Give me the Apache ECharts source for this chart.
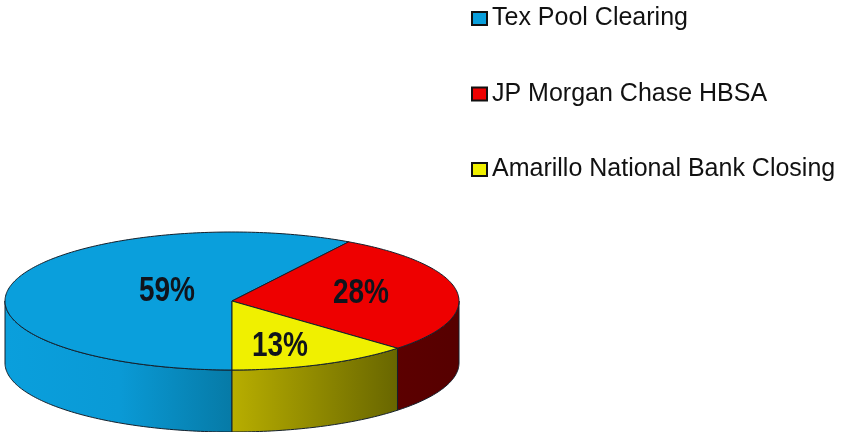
<!DOCTYPE html>
<html lang="en">
<head>
    <meta charset="UTF-8">
    <title>Bank balances</title>
    <script src="https://cdn.jsdelivr.net/npm/echarts@6/dist/echarts.min.js"></script>
    <style>
        html, body { margin: 0; padding: 0; background: #fff; }
    </style>
</head>
<body>
<div id="main" style="width: 841px;height:432px;"></div>

<script type="text/javascript">
    var names = ['Tex Pool Clearing', 'JP Morgan Chase HBSA', 'Amarillo National Bank Closing'];
    var shares = [58.6, 28.4, 13];
    var topColors = ['#0a9fdc', '#ee0000', '#f0f000'];

    // pie shape on the page
    var cx = 232, cy = 301, rx = 227, ry = 69, depth = 62;
    // the first slice starts at the front of the pie, clockwise
    var startDeg = 180;
    var labelAt = [[167, 291], [361, 293], [280, 346]];
    var edge = '#14202c';

    // side wall colours, left to right
    var wallColors = [
        [[0, '#0a9fdc'], [0.5, '#0a9ad6'], [1, '#067aa6']],
        [[0, '#5c0000'], [1, '#560000']],
        [[0, '#b8ae00'], [1, '#686600']]
    ];

    function rimPoint(deg, drop) {
        var r = deg * Math.PI / 180;
        return [cx + rx * Math.sin(r), cy - ry * Math.cos(r) + (drop || 0)];
    }

    function arcPoints(from, to, drop) {
        var pts = [];
        var n = Math.max(2, Math.ceil(Math.abs(to - from)));
        for (var i = 0; i <= n; i++) {
            pts.push(rimPoint(from + (to - from) * i / n, drop));
        }
        return pts;
    }

    function sliceRange(index) {
        var total = shares.reduce(function (a, b) { return a + b; }, 0);
        var before = 0;
        for (var i = 0; i < index; i++) before += shares[i];
        return [startDeg + before / total * 360, startDeg + (before + shares[index]) / total * 360];
    }

    function drawSlice(index) {
        return function (params, api) {
            var range = sliceRange(index);
            var children = [];

            // only the part between 90 and 270 degrees faces the viewer
            var turn = range[0] >= 360 ? 360 : 0;
            var from = Math.max(range[0] - turn, 90), to = Math.min(range[1] - turn, 270);
            if (to > from) {
                var wall = arcPoints(from, to, 0).concat(arcPoints(to, from, depth));
                var stops = wallColors[index].map(function (s) { return { offset: s[0], color: s[1] }; });
                children.push({
                    type: 'polygon',
                    shape: { points: wall },
                    style: {
                        fill: new echarts.graphic.LinearGradient(0, 0, 1, 0, stops),
                        stroke: edge,
                        lineWidth: 1
                    }
                });
            }

            children.push({
                type: 'polygon',
                shape: { points: [[cx, cy]].concat(arcPoints(range[0], range[1], 0)) },
                style: { fill: topColors[index], stroke: edge, lineWidth: 1 }
            });

            children.push({
                type: 'text',
                z2: 10,
                x: labelAt[index][0],
                y: labelAt[index][1],
                scaleX: 0.8,
                style: {
                    text: Math.round(api.value(0)) + '%',
                    fill: '#10141c',
                    font: 'bold 35px "Liberation Sans", sans-serif',
                    align: 'center',
                    verticalAlign: 'middle'
                }
            });
            return { type: 'group', children: children };
        };
    }

    var myChart = echarts.init(document.getElementById('main'));

    var option = {
        animation: false,
        backgroundColor: '#fff',
        legend: {
            orient: 'vertical',
            left: 471,
            top: 6,
            padding: 0,
            itemWidth: 15,
            itemHeight: 13,
            itemGap: 50.5,
            icon: 'rect',
            textStyle: { fontFamily: 'Liberation Sans', fontSize: 25, color: '#111' },
            data: names
        },
        series: names.map(function (name, i) {
            return {
                type: 'custom',
                name: name,
                coordinateSystem: 'none',
                renderItem: drawSlice(i),
                itemStyle: { color: topColors[i], borderColor: '#111', borderWidth: 2 },
                data: [[shares[i]]]
            };
        })
    };

    myChart.setOption(option);
</script>
</body>
</html>
